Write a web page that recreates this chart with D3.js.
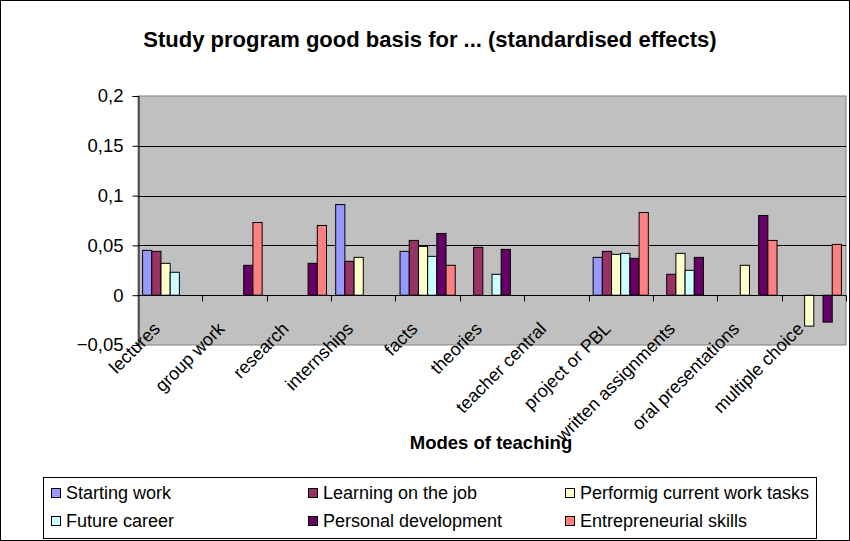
<!DOCTYPE html>
<html>
<head>
<meta charset="utf-8">
<script src="https://cdn.jsdelivr.net/npm/d3@7"></script>
<style>
  body { margin: 0; background: #fff; }
  svg text { font-family: "Liberation Sans", Arial, sans-serif; fill: #000; }
</style>
</head>
<body>
<svg id="chart" width="850" height="541"></svg>
<script>
const categories = ["lectures", "group work", "research", "internships", "facts", "theories",
  "teacher central", "project or PBL", "written assignments", "oral presentations", "multiple choice"];

const seriesNames = ["Starting work", "Learning on the job", "Performig current work tasks",
  "Future career", "Personal development", "Entrepreneurial skills"];

const startingWork    = [0.045, null, null, 0.091, 0.044, null, null, 0.038, null, null, null];
const learningOnJob   = [0.044, null, null, 0.034, 0.055, 0.048, null, 0.044, 0.021, null, null];
const performingTasks = [0.032, null, null, 0.038, 0.049, null, null, 0.041, 0.042, 0.030, -0.031];
const futureCareer    = [0.023, null, null, null, 0.039, 0.021, null, 0.042, 0.025, null, null];
const personalDev     = [null, 0.030, 0.032, null, 0.062, 0.046, null, 0.037, 0.038, 0.080, -0.027];
const entrepreneurial = [null, 0.073, 0.070, null, 0.030, null, null, 0.083, null, 0.055, 0.051];

const seriesValues = [startingWork, learningOnJob, performingTasks, futureCareer, personalDev, entrepreneurial];
const seriesColors = ["#9999FF", "#993366", "#FFFFCC", "#CCFFFF", "#660066", "#FF8080"];

const yTicks = [-0.05, 0, 0.05, 0.1, 0.15, 0.2];

const svg = d3.select("#chart");
const plot = { left: 138, right: 846, top: 96, bottom: 345 };

// outer chart border
svg.append("rect")
    .attr("x", 0.5).attr("y", 0.5)
    .attr("width", 849).attr("height", 540)
    .attr("fill", "#fff").attr("stroke", "#000");

const x = d3.scaleBand().domain(categories).range([plot.left, plot.right]).padding(0);
const xInner = d3.scaleBand().domain(seriesNames).range([0, x.bandwidth()])
    .paddingInner(0).paddingOuter(0.5);
const y = d3.scaleLinear().domain([-0.05, 0.2]).range([plot.bottom, plot.top]);

// plot background
svg.append("rect")
    .attr("x", plot.left).attr("y", plot.top)
    .attr("width", plot.right - plot.left).attr("height", plot.bottom - plot.top)
    .attr("fill", "#C0C0C0").attr("stroke", "#808080");

// gridlines
svg.append("g")
  .selectAll("line")
  .data(yTicks.filter(t => t > 0 && t < 0.2))
  .join("line")
    .attr("x1", plot.left).attr("x2", plot.right)
    .attr("y1", d => Math.round(y(d)) + 0.5).attr("y2", d => Math.round(y(d)) + 0.5)
    .attr("stroke", "#000");

// bars
const barData = [];
seriesValues.forEach((vals, si) => {
  vals.forEach((v, ci) => {
    if (v !== null) barData.push({ cat: categories[ci], series: seriesNames[si], value: v, color: seriesColors[si] });
  });
});

svg.append("g")
  .selectAll("rect")
  .data(barData)
  .join("rect")
    .attr("x", d => x(d.cat) + xInner(d.series))
    .attr("y", d => y(Math.max(0, d.value)))
    .attr("width", xInner.bandwidth())
    .attr("height", d => Math.abs(y(d.value) - y(0)))
    .attr("fill", d => d.color)
    .attr("stroke", "#000")
    .attr("stroke-width", 1);

// zero line and x ticks
const zeroY = Math.round(y(0)) + 0.5;
svg.append("line")
    .attr("x1", plot.left).attr("x2", plot.right)
    .attr("y1", zeroY).attr("y2", zeroY)
    .attr("stroke", "#000");

svg.append("g")
  .selectAll("line")
  .data(categories.slice(1).concat(["end"]))
  .join("line")
    .attr("x1", d => Math.round(d === "end" ? plot.right : x(d)) + 0.5)
    .attr("x2", d => Math.round(d === "end" ? plot.right : x(d)) + 0.5)
    .attr("y1", zeroY).attr("y2", zeroY + 6)
    .attr("stroke", "#000");

// y axis
const yAxis = d3.axisLeft(y)
    .tickValues(yTicks)
    .tickSize(6)
    .tickPadding(9)
    .tickFormat(d => d3.format("")(d).replace(".", ","));

const yg = svg.append("g")
    .attr("transform", `translate(${plot.left + 0.5},0)`)
    .call(yAxis);
yg.select(".domain").attr("stroke", "#000");
yg.selectAll(".tick line").attr("stroke", "#000");
yg.selectAll(".tick text")
    .style("font-size", "18.5px")
    .attr("fill", "#000");

// x category labels
svg.append("g")
  .selectAll("text")
  .data(categories)
  .join("text")
    .attr("transform", d => `translate(${x(d) + x.bandwidth() / 2 - 9},330) rotate(-45)`)
    .attr("text-anchor", "end")
    .style("font-size", "18px")
    .text(d => d);

// title
svg.append("text")
    .attr("x", 430).attr("y", 47)
    .attr("text-anchor", "middle")
    .style("font-size", "22px")
    .style("font-weight", "bold")
    .text("Study program good basis for ... (standardised effects)");

// axis title
svg.append("text")
    .attr("x", 491).attr("y", 449)
    .attr("text-anchor", "middle")
    .style("font-size", "18.5px")
    .style("font-weight", "bold")
    .text("Modes of teaching");

// legend
const legend = { left: 43, top: 477, width: 773, height: 61 };
svg.append("rect")
    .attr("x", legend.left + 0.5).attr("y", legend.top + 0.5)
    .attr("width", legend.width).attr("height", legend.height)
    .attr("fill", "#fff").attr("stroke", "#000");

const legendItems = svg.append("g")
  .selectAll("g")
  .data(seriesNames)
  .join("g")
    .attr("transform", (d, i) => `translate(${legend.left + 8 + (i % 3) * 257},${legend.top + 16 + Math.floor(i / 3) * 28})`);

legendItems.append("rect")
    .attr("x", 0.5).attr("y", -4.5)
    .attr("width", 9).attr("height", 9)
    .attr("fill", (d, i) => seriesColors[i])
    .attr("stroke", "#000");

legendItems.append("text")
    .attr("x", 15).attr("y", 0)
    .attr("dy", "0.36em")
    .style("font-size", "18px")
    .text(d => d);
</script>
</body>
</html>
